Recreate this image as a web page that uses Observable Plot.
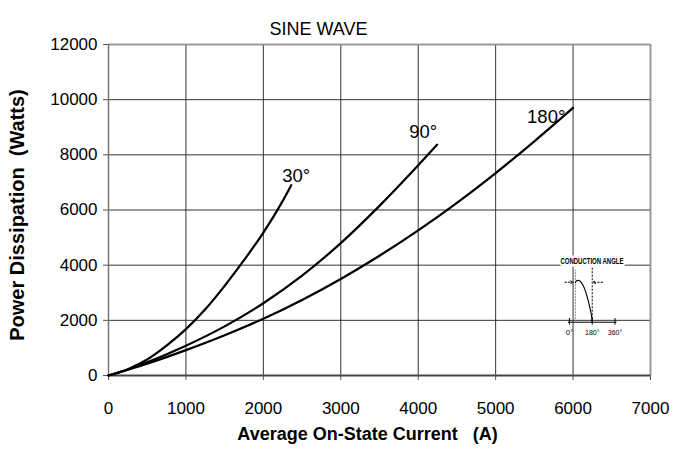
<!DOCTYPE html>
<html><head><meta charset="utf-8">
<script src="https://cdn.jsdelivr.net/npm/d3@7"></script>
<script src="https://cdn.jsdelivr.net/npm/@observablehq/plot@0.6"></script>
<style>
body{margin:0;background:#fff;}
#chart{width:673px;height:453px;}
</style></head><body><div id="chart"></div>
<script>
// ---- data ----
const titleText = "SINE WAVE";
const xTitle = "Average On-State Current\u00a0\u00a0\u00a0(A)";
const yTitle = "Power Dissipation\u00a0\u00a0(Watts)";
const xTicks = [0, 1000, 2000, 3000, 4000, 5000, 6000, 7000];
const yTicks = [0, 2000, 4000, 6000, 8000, 10000, 12000];

const angleLabels = ["30°", "90°", "180°"];
const current30 = [0, 250, 500, 750, 1000, 1250, 1500, 1750, 2000, 2250, 2360];
const power30   = [0, 230, 580, 1080, 1680, 2400, 3250, 4180, 5180, 6330, 6900];
const current90 = [0, 250, 500, 1000, 1500, 2000, 2500, 3000, 3500, 4000, 4245];
const power90   = [0, 220, 480, 1080, 1780, 2620, 3620, 4800, 6150, 7620, 8370];
const current180 = [0, 250, 500, 1000, 1500, 2000, 2500, 3000, 3500, 4000, 4500, 5000, 5500, 6000];
const power180   = [0, 210, 430, 920, 1460, 2060, 2740, 3500, 4340, 5260, 6260, 7340, 8490, 9700];

// inset (conduction angle sketch), in degrees / relative amplitude
const insetTitle = "CONDUCTION ANGLE";
const insetAxisLabels = ["0°", "180°", "360°"];
const insetAxisAngles = [0, 180, 360];
const insetWaveAngle = [47, 50, 60, 75, 90, 105, 120, 135, 150, 165, 175, 180];
const insetWaveLevel = [0.95, 0.97, 1.0, 1.0, 0.97, 0.9, 0.8, 0.66, 0.5, 0.3, 0.14, 0];

// ---- build tables ----
const series = [
  {label: angleLabels[0], xs: current30, ys: power30, dx: -9, dy: -9},
  {label: angleLabels[1], xs: current90, ys: power90, dx: -28, dy: -13},
  {label: angleLabels[2], xs: current180, ys: power180, dx: -46, dy: 9}
];
const rows = series.flatMap(s => s.xs.map((x, i) => ({series: s.label, x, y: s.ys[i]})));

// inset placement in chart data units
const ix = a => 5953 + a * 1.635;
const iy = v => 1932 + v * 1510;
const wave = insetWaveAngle.map((a, i) => ({x: ix(a), y: iy(insetWaveLevel[i])}));
const font = "'Liberation Sans', Arial, sans-serif";

const chart = Plot.plot({
  width: 673, height: 453,
  marginLeft: 108, marginRight: 23, marginTop: 44, marginBottom: 78,
  style: {fontFamily: font, background: "#fff", color: "#000"},
  x: {domain: [0, 7000]},
  y: {domain: [0, 12000]},
  marks: [
    Plot.gridX(xTicks.slice(1, -1), {stroke: "#333", strokeOpacity: 1, strokeWidth: 1}),
    Plot.gridY(yTicks.slice(1, -1), {stroke: "#333", strokeOpacity: 1, strokeWidth: 1}),
    Plot.ruleY([12000], {stroke: "#999", strokeWidth: 2}),
    Plot.ruleX([7000], {stroke: "#999", strokeWidth: 2}),
    Plot.ruleX([0], {stroke: "#777", strokeWidth: 1.5}),
    Plot.ruleY([0], {stroke: "#444", strokeWidth: 2}),
    Plot.axisX(xTicks, {ticks: xTicks, tickFormat: d => `${d}`, tickSize: 5, tickPadding: 21, fontSize: 17, label: null, stroke: "#555"}),
    Plot.axisY(yTicks, {ticks: yTicks, tickFormat: d => `${d}`, tickSize: 5, tickPadding: 6, fontSize: 17, label: null, stroke: "#555"}),
    // inset sketch
    Plot.text([insetTitle], {x: ix(178), y: iy(1.48), text: d => d, fontSize: 9.5, fontWeight: "bold",
      stroke: "white", strokeWidth: 5, fill: "black", className: "inset-title"}),
    Plot.link([{a: -12, b: 372}], {x1: d => ix(d.a), x2: d => ix(d.b), y1: iy(0), y2: iy(0), stroke: "black", strokeWidth: 1}),
    Plot.link(insetAxisAngles, {x1: d => ix(d), x2: d => ix(d), y1: iy(-0.06), y2: iy(0.1), stroke: "black", strokeWidth: 1}),
    Plot.text(insetAxisLabels, {x: (d, i) => ix(insetAxisAngles[i]), y: iy(-0.25), text: d => d, fontSize: 8, className: "inset-axis"}),
    Plot.link([47], {x1: d => ix(d), x2: d => ix(d), y1: iy(0), y2: iy(1.26), stroke: "#888", strokeWidth: 1, strokeDasharray: "2,1"}),
    Plot.link([180], {x1: d => ix(d), x2: d => ix(d), y1: iy(0), y2: iy(1.32), stroke: "black", strokeWidth: 1, strokeDasharray: "2,1.5"}),
    Plot.line(wave, {x: "x", y: "y", curve: "natural", stroke: "black", strokeWidth: 1.1}),
    Plot.arrow([{a: -35, b: 28}, {a: 262, b: 186}], {x1: d => ix(d.a), x2: d => ix(d.b), y1: iy(0.96), y2: iy(0.96),
      stroke: "black", strokeWidth: 1, headLength: 5, strokeDasharray: "1.5,2"}),
    // curves
    Plot.line(rows, {x: "x", y: "y", z: "series", curve: "monotone-x", stroke: "black", strokeWidth: 2.2}),
    ...series.map(s => Plot.text([s], {x: d => d.xs[d.xs.length - 1], y: d => d.ys[d.ys.length - 1], text: "label",
      textAnchor: "start", dx: s.dx, dy: s.dy, fontSize: 18.5})),
    // titles
    Plot.text([titleText], {frameAnchor: "top", text: d => d, dx: -61, dy: -22, fontSize: 18}),
    Plot.text([xTitle], {frameAnchor: "bottom", text: d => d, dx: -12, dy: 64, fontSize: 18, fontWeight: "bold"}),
    Plot.text([yTitle], {frameAnchor: "left", text: d => d, textAnchor: "middle", dx: -91, dy: 5, rotate: -90, fontSize: 20, fontWeight: "bold"})
  ]
});
// condense the small inset lettering like the reference
chart.querySelectorAll(".inset-title text").forEach(t => {
  t.setAttribute("textLength", "63");
  t.setAttribute("lengthAdjust", "spacingAndGlyphs");
});
chart.querySelectorAll(".inset-axis text").forEach(t => {
  t.setAttribute("textLength", t.textContent.length * 3.6);
  t.setAttribute("lengthAdjust", "spacingAndGlyphs");
});
document.getElementById("chart").appendChild(chart);
</script>
</body></html>
